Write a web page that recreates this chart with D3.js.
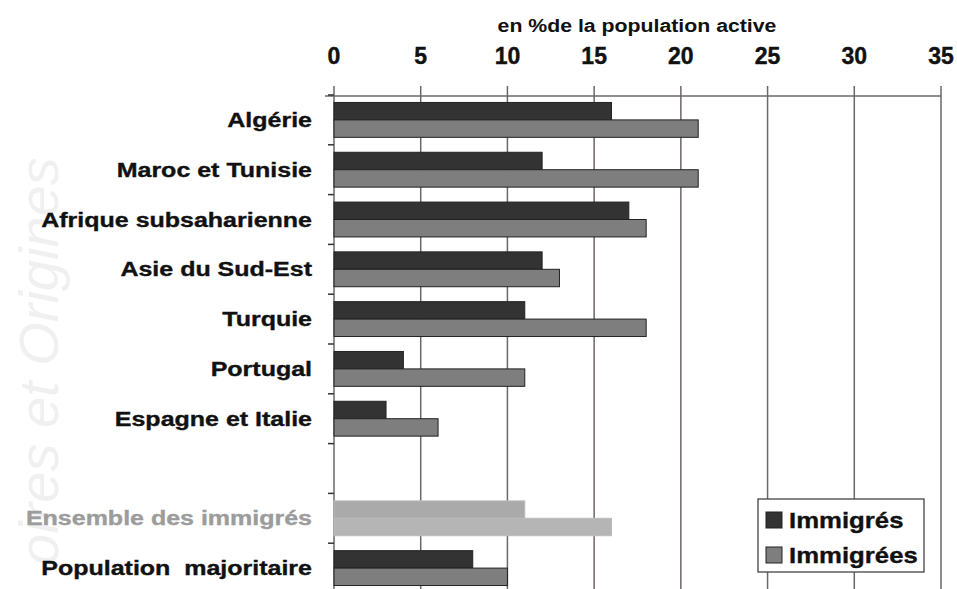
<!DOCTYPE html>
<html>
<head>
<meta charset="utf-8">
<script src="https://cdn.jsdelivr.net/npm/d3@7"></script>
<style>
  body { margin: 0; background: #fff; }
  text { font-family: "Liberation Sans", Arial, sans-serif; font-weight: bold; white-space: pre; }
</style>
</head>
<body>
<script>
// Data
var categories = ["Algérie", "Maroc et Tunisie", "Afrique subsaharienne", "Asie du Sud-Est",
                  "Turquie", "Portugal", "Espagne et Italie", "",
                  "Ensemble des immigrés", "Population  majoritaire"];
var series = ["Immigrés", "Immigrées"];
var hommes = [16, 12, 17, 12, 11, 4, 3, null, 11, 8];
var femmes = [21, 21, 18, 13, 18, 11, 6, null, 16, 10];
var ticks = [0, 5, 10, 15, 20, 25, 30, 35];
var axisTitle = "en %de la population active";

var width = 957, height = 589;

var svg = d3.select("body")
            .append("svg")
            .attr("width", width)
            .attr("height", height);

// faint watermark on the left
svg.append("text")
   .attr("transform", "translate(58,565) rotate(-90)")
   .attr("fill", "#f0f0f0")
   .style("font-weight", "normal")
   .style("font-style", "italic")
   .style("font-size", "56px")
   .text("oires et Origines");

// scales
var x = d3.scaleLinear().domain([0, 35]).range([334, 941]);
var y = d3.scaleBand().domain(d3.range(categories.length))
          .range([95, 593]).paddingInner(0.3).paddingOuter(0.15);
var ySub = d3.scaleBand().domain(series).range([0, y.bandwidth()]);

// gridlines
svg.selectAll(".grid")
   .data(ticks)
   .enter()
   .append("line")
   .attr("x1", function(d) { return x(d); })
   .attr("x2", function(d) { return x(d); })
   .attr("y1", 86)
   .attr("y2", height)
   .attr("stroke", "#6e6666")
   .attr("stroke-width", 1.5);

// top axis line
svg.append("line")
   .attr("x1", 325).attr("x2", x(35))
   .attr("y1", 96).attr("y2", 96)
   .attr("stroke", "#6e6666")
   .attr("stroke-width", 1.5);

// left ticks between categories
svg.selectAll(".ytick")
   .data(d3.range(categories.length + 1))
   .enter()
   .append("line")
   .attr("x1", 328).attr("x2", 334)
   .attr("y1", function(i) { return 95 + i * y.step(); })
   .attr("y2", function(i) { return 95 + i * y.step(); })
   .attr("stroke", "#333")
   .attr("stroke-width", 1.5);

// tick labels
svg.selectAll(".tlabel")
   .data(ticks)
   .enter()
   .append("text")
   .attr("x", function(d) { return x(d); })
   .attr("y", 64)
   .attr("text-anchor", "middle")
   .style("font-size", "23px")
   .attr("fill", "#111")
   .attr("stroke", "#111")
   .attr("stroke-width", 0.4)
   .text(function(d) { return d; });

// axis title
svg.append("text")
   .attr("transform", "translate(637,32) scale(1.12,1)")
   .attr("text-anchor", "middle")
   .style("font-size", "19px")
   .attr("fill", "#111")
   .text(axisTitle);

// category labels
svg.selectAll(".clabel")
   .data(categories)
   .enter()
   .append("text")
   .attr("transform", function(d, i) {
     return "translate(312," + (y(i) + y.bandwidth() / 2 + 7) + ") scale(1.25,1)";
   })
   .attr("text-anchor", "end")
   .style("font-size", "20px")
   .attr("fill", function(d, i) { return i == 8 ? "#9c9c9c" : "#111"; })
   .attr("stroke", function(d, i) { return i == 8 ? "#9c9c9c" : "#111"; })
   .attr("stroke-width", 0.35)
   .text(function(d) { return d; });

// bars
var rows = categories.map(function(c, i) {
  return { i: i, values: [hommes[i], femmes[i]] };
}).filter(function(r) { return r.values[0] != null; });

var groups = svg.selectAll(".row")
                .data(rows)
                .enter()
                .append("g")
                .attr("transform", function(r) { return "translate(0," + y(r.i) + ")"; });

var colors = ["#333333", "#7e7e7e"];
var lightColors = ["#aaaaaa", "#b5b5b5"];

groups.selectAll("rect")
      .data(function(r) {
        return r.values.map(function(v, k) { return { v: v, k: k, row: r.i }; });
      })
      .enter()
      .append("rect")
      .attr("x", x(0))
      .attr("y", function(d) { return ySub(series[d.k]); })
      .attr("width", function(d) { return x(d.v) - x(0); })
      .attr("height", ySub.bandwidth())
      .attr("fill", function(d) { return d.row == 8 ? lightColors[d.k] : colors[d.k]; })
      .attr("stroke", function(d) { return d.row == 8 ? "#bbb" : "#222"; })
      .attr("stroke-width", 1);

// legend
var legend = svg.append("g").attr("transform", "translate(758,499)");
legend.append("rect")
      .attr("width", 166).attr("height", 73)
      .attr("fill", "#fff")
      .attr("stroke", "#444")
      .attr("stroke-width", 1.3);

var items = legend.selectAll(".item")
                  .data(series)
                  .enter()
                  .append("g")
                  .attr("transform", function(d, i) { return "translate(8," + (13 + i * 35) + ")"; });

items.append("rect")
     .attr("width", 16).attr("height", 16)
     .attr("fill", function(d, i) { return colors[i]; })
     .attr("stroke", "#222");

items.append("text")
     .attr("transform", "translate(23,16) scale(1.12,1)")
     .style("font-size", "23px")
     .attr("fill", "#111")
     .attr("stroke", "#111")
     .attr("stroke-width", 0.35)
     .text(function(d) { return d; });
</script>
</body>
</html>
